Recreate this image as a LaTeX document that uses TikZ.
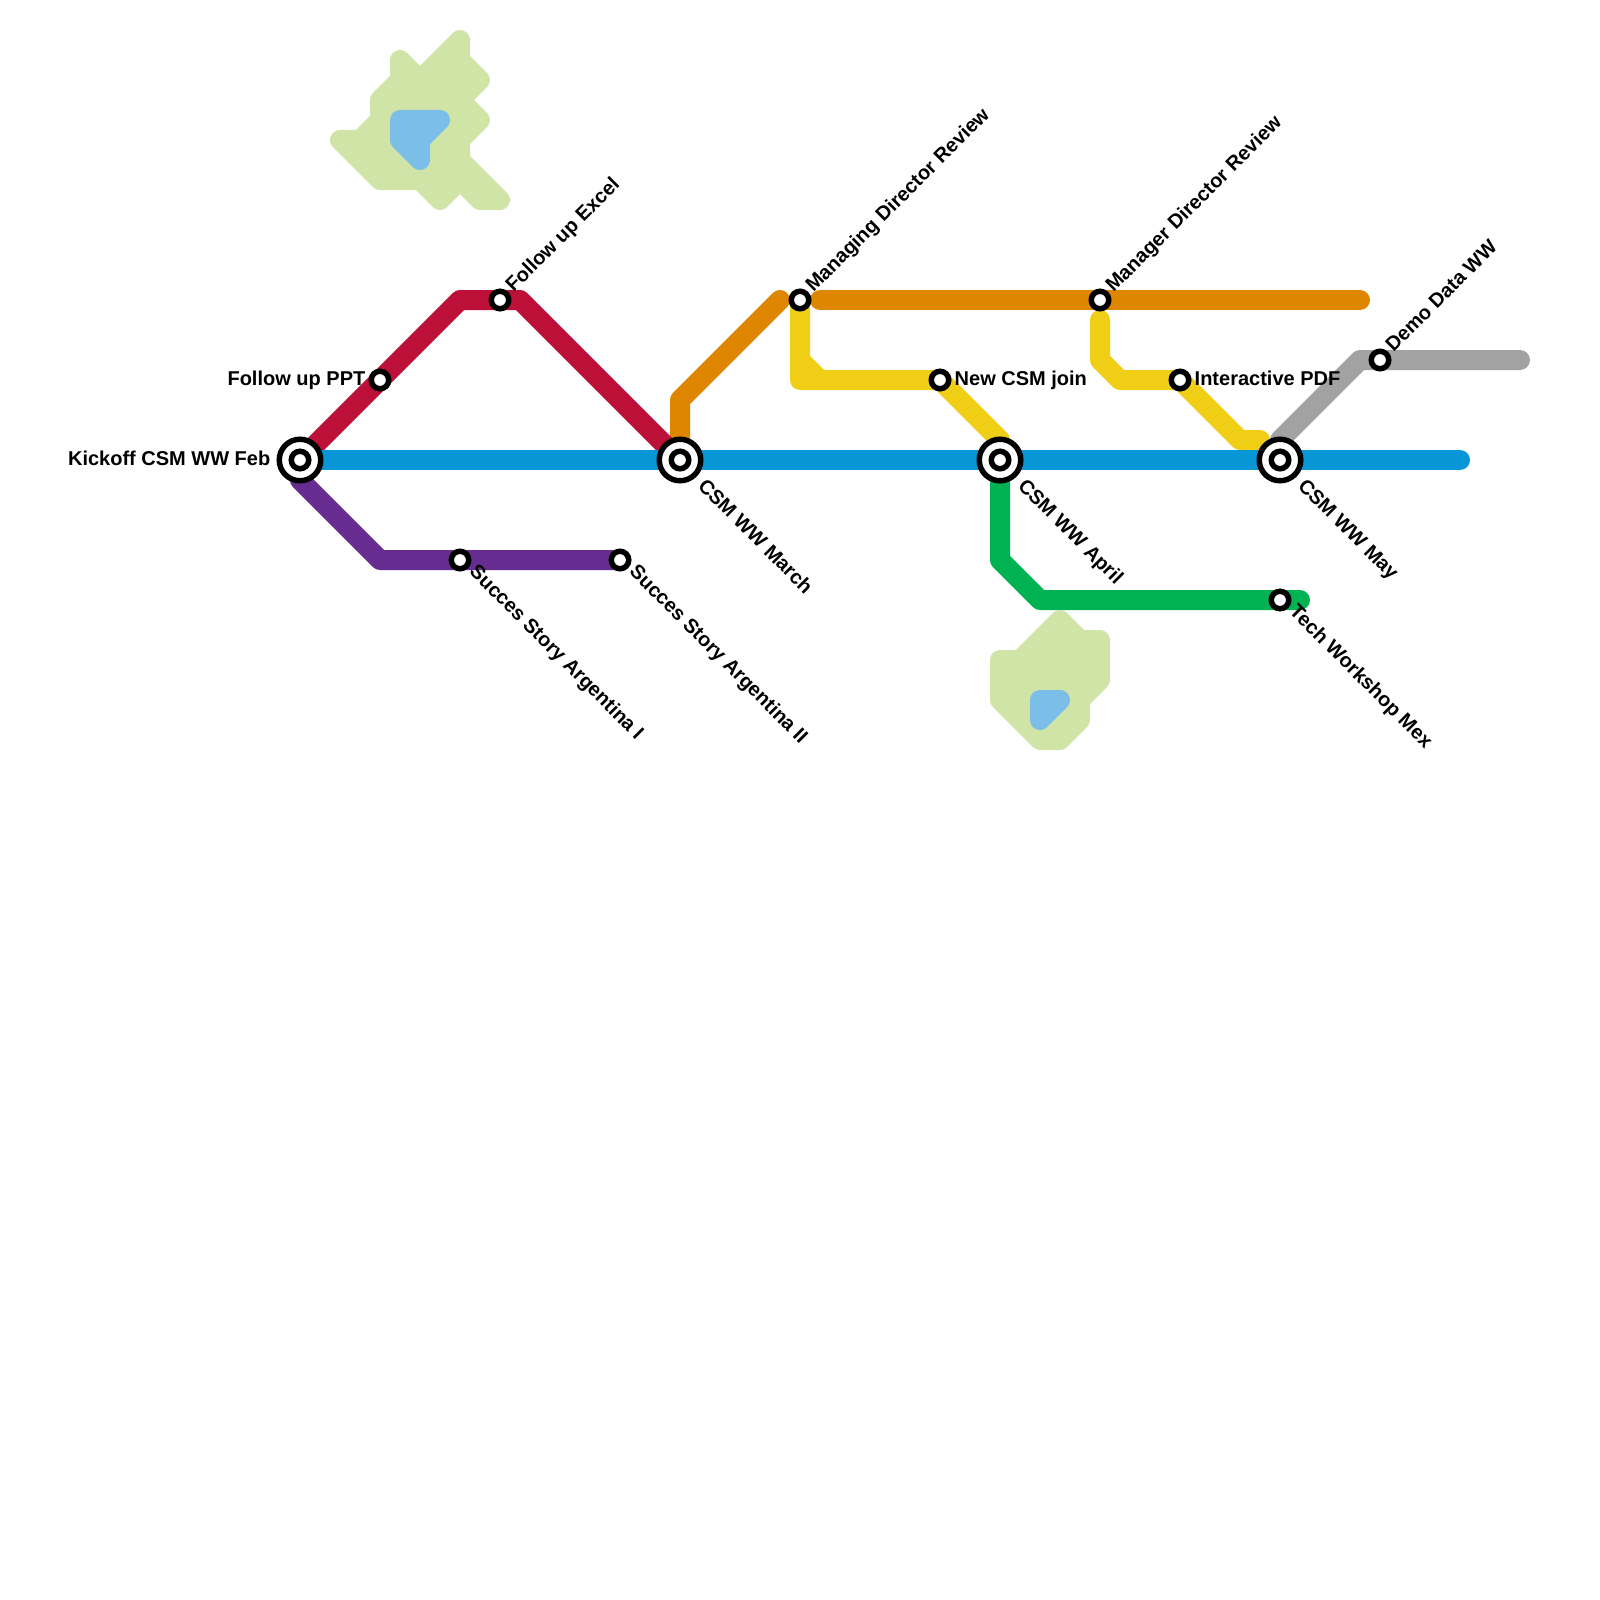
\documentclass[tikz,border=0pt]{standalone}
\usepackage{fontspec}
\setmainfont{Liberation Sans}
\usetikzlibrary{positioning, calc, backgrounds}
\definecolor{lineblue}{HTML}{0896D7}
\definecolor{linered}{HTML}{BD1038}
\definecolor{linepurple}{HTML}{662C90}
\definecolor{lineorange}{HTML}{DF8600}
\definecolor{lineyellow}{HTML}{F0CE15}
\definecolor{linegreen}{HTML}{00B251}
\definecolor{linegrey}{HTML}{A2A2A2}
\definecolor{parkgreen}{HTML}{D0E4A8}
\definecolor{waterblue}{HTML}{7BBFE9}

\begin{document}
\begin{tikzpicture}[x=1pt, y=-1pt]
    \tikzstyle{metro} = [line width=20pt, line cap=round, line join=round]
    \tikzstyle{station} = [circle, draw=black, fill=white, line width=5.5pt, inner sep=0pt, minimum size=17.5pt]
    \tikzstyle{interchange} = [station, minimum size=41.5pt]
    \tikzstyle{stationtext} = [font=\fontsize{20}{22}\selectfont\bfseries, inner sep=0pt, text=black, text height=14.5pt, text depth=4.2pt]
    \tikzstyle{textup} = [stationtext, anchor=west, rotate=45, xshift=3pt, yshift=0.5pt]
    \tikzstyle{textdown} = [stationtext, anchor=west, rotate=-45, xshift=3.5pt, yshift=2pt]
    \tikzstyle{textdownbig} = [textdown, xshift=4pt, yshift=-4pt]
    \useasboundingbox (0,0) rectangle (1600,1600);

    % Stations on the main line
    \node (kickoff) [interchange] at (300,460) {};
    \node (march) [interchange, right of=kickoff, node distance=380pt] {};
    \node (april) [interchange, right of=march, node distance=320pt] {};
    \node (may) [interchange, right of=april, node distance=280pt] {};
    \node (kickoffdot) [station] at (kickoff) {};
    \node (marchdot) [station] at (march) {};
    \node (aprildot) [station] at (april) {};
    \node (maydot) [station] at (may) {};

    % Other stations
    \node (ppt) [station] at (380,380) {};
    \node (excel) [station] at (500,300) {};
    \node (storyone) [station] at (460,560) {};
    \node (storytwo) [station, right of=storyone, node distance=160pt] {};
    \node (managing) [station] at (800,300) {};
    \node (manager) [station, right of=managing, node distance=300pt] {};
    \node (newcsm) [station] at (940,380) {};
    \node (pdf) [station, right of=newcsm, node distance=240pt] {};
    \node (demo) [station] at (1380,360) {};
    \node (workshop) [station, below of=may, node distance=140pt] {};

    % Line bends and free ends
    \coordinate (redleft) at (460,300);
    \coordinate (redright) at (520,300);
    \coordinate (purplestart) at (300,480);
    \coordinate (purplebend) at (380,560);
    \coordinate (blueend) at (1460,460);
    \coordinate (orangeup) at (680,400);
    \coordinate (orangestop) at (780,300);
    \coordinate (orangestart) at (820,300);
    \coordinate (orangeend) at (1360,300);
    \coordinate (yellowcorner) at (800,380);
    \coordinate (yellowstub) at (800,360);
    \coordinate (yellowfoot) at (820,380);
    \coordinate (yellowstop) at (1000,440);
    \coordinate (yellowtop) at (1100,320);
    \coordinate (yellowdown) at (1100,360);
    \coordinate (yellowin) at (1120,380);
    \coordinate (yellowout) at (1240,440);
    \coordinate (yellowend) at (1260,440);
    \coordinate (greybottom) at (1280,440);
    \coordinate (greybend) at (1360,360);
    \coordinate (greyend) at (1520,360);
    \coordinate (greenbend) at (1000,560);
    \coordinate (greenfoot) at (1040,600);
    \coordinate (greenend) at (1300,600);

    % Lines
    \begin{scope}[on background layer]
        \draw [metro, draw=linegrey] (greybottom) -- (greybend) -- (demo.center) -- (greyend);
        \draw [metro, draw=lineyellow] (managing.center) -- (yellowcorner) -- (newcsm.center) -- (yellowstop);
        \draw [metro, draw=lineyellow] (yellowstub) -- (yellowfoot);
        \draw [metro, draw=lineyellow] (yellowtop) -- (yellowdown) -- (yellowin) -- (pdf.center) -- (yellowout) -- (yellowend);
        \draw [metro, draw=lineorange] (march.center) -- (orangeup) -- (orangestop);
        \draw [metro, draw=lineorange] (orangestart) -- (manager.center) -- (orangeend);
        \draw [metro, draw=linered] (kickoff.center) -- (ppt.center) -- (redleft) -- (excel.center) -- (redright) -- (march.center);
        \draw [metro, draw=linepurple] (purplestart) -- (purplebend) -- (storyone.center) -- (storytwo.center);
        \draw [metro, draw=linegreen] (april.center) -- (greenbend) -- (greenfoot) -- (workshop.center) -- (greenend);
        \draw [metro, draw=lineblue] (kickoff.center) -- (march.center) -- (april.center) -- (may.center) -- (blueend);
    \end{scope}

    % Parks and water
    \draw [metro, draw=parkgreen, fill=parkgreen] (460,40) -- (460,60) -- (480,80) -- (460,100) -- (480,120) -- (460,140) -- (460,160) -- (500,200) -- (480,200) -- (460,180) -- (440,200) -- (420,180) -- (380,180) -- (340,140) -- (360,140) -- (380,120) -- (380,100) -- (400,80) -- (400,60) -- (420,80) -- cycle;
    \draw [metro, draw=waterblue, fill=waterblue] (400,120) -- (440,120) -- (420,140) -- (420,160) -- (400,140) -- cycle;
    \draw [metro, draw=parkgreen, fill=parkgreen] (1000,660) -- (1020,660) -- (1060,620) -- (1080,640) -- (1100,640) -- (1100,680) -- (1080,700) -- (1080,720) -- (1060,740) -- (1040,740) -- (1000,700) -- cycle;
    \draw [metro, draw=waterblue, fill=waterblue] (1040,700) -- (1060,700) -- (1040,720) -- cycle;

    % Station names
    \node (kickofftext) [stationtext, anchor=east, xshift=-6pt] at (kickoff.west) {Kickoff CSM WW Feb};
    \node (ppttext) [stationtext, anchor=east, xshift=-3pt] at (ppt.west) {Follow up PPT};
    \node (exceltext) [textup] at (excel.north east) {Follow up Excel};
    \node (storyonetext) [textdown] at (storyone.south east) {Succes Story Argentina I};
    \node (storytwotext) [textdown] at (storytwo.south east) {Succes Story Argentina II};
    \node (marchtext) [textdownbig] at (march.south east) {CSM WW March};
    \node (managingtext) [textup] at (managing.north east) {Managing Director Review};
    \node (newcsmtext) [stationtext, anchor=west, xshift=3pt] at (newcsm.east) {New CSM join};
    \node (apriltext) [textdownbig] at (april.south east) {CSM WW April};
    \node (managertext) [textup] at (manager.north east) {Manager Director Review};
    \node (pdftext) [stationtext, anchor=west, xshift=3pt] at (pdf.east) {Interactive PDF};
    \node (maytext) [textdownbig] at (may.south east) {CSM WW May};
    \node (demotext) [textup] at (demo.north east) {Demo Data WW};
    \node (workshoptext) [textdown] at (workshop.south east) {Tech Workshop Mex};
\end{tikzpicture}
\end{document}
